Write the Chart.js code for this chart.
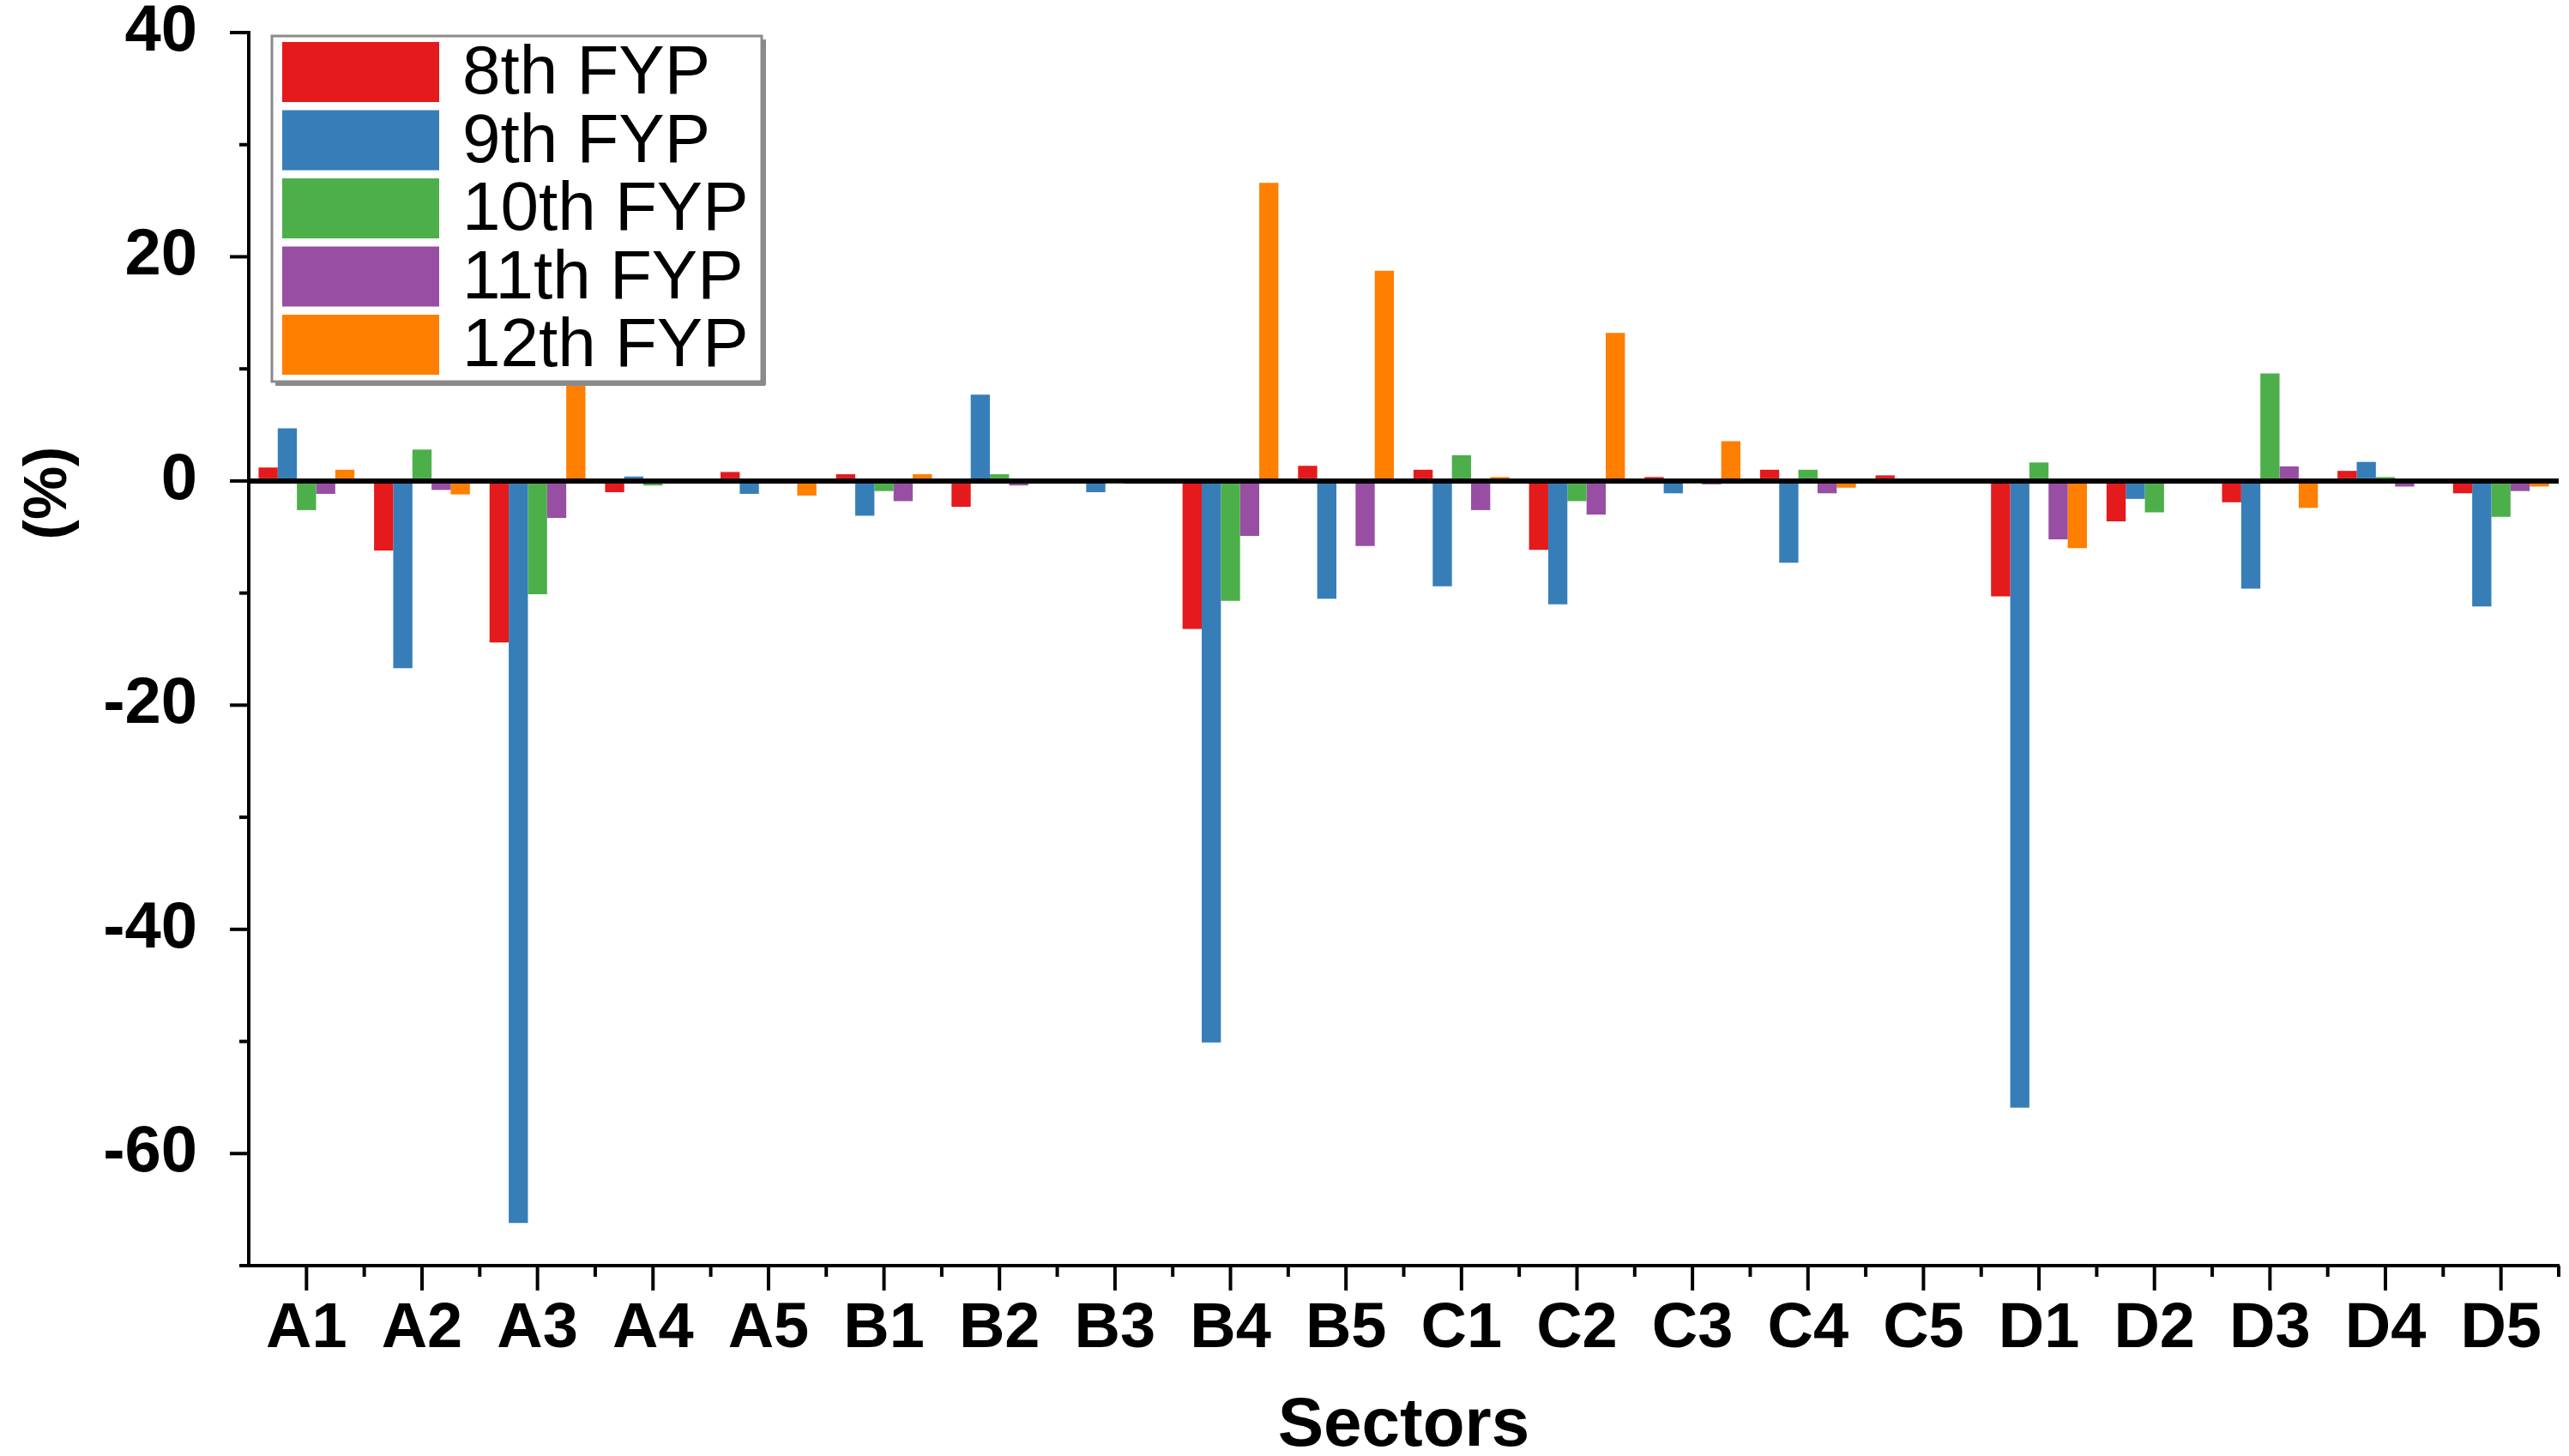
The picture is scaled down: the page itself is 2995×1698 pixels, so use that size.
<!DOCTYPE html>
<html>
<head>
<meta charset="utf-8">
<script src="https://cdn.jsdelivr.net/npm/chart.js@4.4.1/dist/chart.umd.min.js"></script>
<style>
  html, body { margin: 0; padding: 0; background: #fff; }
  #wrap { width: 2995px; height: 1698px; }
</style>
</head>
<body>
<div id="wrap"><canvas id="chart" width="2995" height="1698"></canvas></div>
<script>
// Sector change per Five-Year Plan (%)
const sectors = ['A1', 'A2', 'A3', 'A4', 'A5', 'B1', 'B2', 'B3', 'B4', 'B5',
                 'C1', 'C2', 'C3', 'C4', 'C5', 'D1', 'D2', 'D3', 'D4', 'D5'];
const fyp8  = [1.2, -6.2, -14.4, -1.0, 0.8, 0.6, -2.3, 0, -13.2, 1.35,
               1.0, -6.15, 0.35, 1.0, 0.5, -10.3, -3.6, -1.9, 0.9, -1.1];
const fyp9  = [4.7, -16.7, -66.2, 0.4, -1.15, -3.1, 7.7, -1.0, -50.1, -10.5,
               -9.4, -11.0, -1.1, -7.3, 0, -55.9, -1.6, -9.6, 1.7, -11.2];
const fyp10 = [-2.6, 2.8, -10.1, -0.4, 0, -0.9, 0.6, -0.2, -10.7, 0,
               2.3, -1.8, -0.2, 1.0, 0, 1.65, -2.8, 9.6, 0.35, -3.2];
const fyp11 = [-1.15, -0.8, -3.3, 0, 0, -1.8, -0.4, 0, -4.9, -5.8,
               -2.6, -3.0, -0.3, -1.1, 0, -5.2, 0, 1.3, -0.5, -0.9];
const fyp12 = [1.0, -1.2, 15, 0, -1.3, 0.6, 0, 0, 26.6, 18.75,
               0.35, 13.2, 3.55, -0.6, 0, -6.0, 0, -2.4, 0, -0.5];

const seriesNames = ['8th FYP', '9th FYP', '10th FYP', '11th FYP', '12th FYP'];
const seriesColors = ['#E41A1C', '#377EB8', '#4DAF4A', '#984EA3', '#FF7F00'];
const seriesData = [fyp8, fyp9, fyp10, fyp11, fyp12];

const yMin = -70;
const yMax = 40;

const FONT = "'Liberation Sans', Arial, sans-serif";

// tick marks (major/minor) drawn outward, plus the in-plot legend and y title
const decorations = {
  id: 'decorations',
  afterDraw(chart) {
    const ctx = chart.ctx;
    const area = chart.chartArea;
    const ys = chart.scales.y;
    const xs = chart.scales.x;
    ctx.save();
    ctx.strokeStyle = '#000';
    ctx.lineWidth = 4;

    // y ticks
    ys.ticks.forEach(t => {
      const py = ys.getPixelForValue(t.value);
      const len = t.value % 20 === 0 ? 22 : 11;
      ctx.beginPath();
      ctx.moveTo(area.left, py);
      ctx.lineTo(area.left - len, py);
      ctx.stroke();
    });

    // x ticks: long at categories, short at boundaries
    const step = xs.getPixelForValue(1) - xs.getPixelForValue(0);
    sectors.forEach((s, i) => {
      const px = xs.getPixelForValue(i);
      ctx.beginPath();
      ctx.moveTo(px, area.bottom);
      ctx.lineTo(px, area.bottom + 29);
      ctx.stroke();
      const bx = px + step / 2;
      ctx.beginPath();
      ctx.moveTo(bx, area.bottom);
      ctx.lineTo(bx, area.bottom + 13);
      ctx.stroke();
    });

    // y title
    ctx.fillStyle = '#000';
    ctx.font = 'bold 70px ' + FONT;
    ctx.textAlign = 'center';
    ctx.textBaseline = 'middle';
    ctx.translate(58, 575);
    ctx.rotate(-Math.PI / 2);
    ctx.fillText('(%)', 0, 0);
    ctx.restore();

    // legend box
    ctx.save();
    const lx = 317, ly = 42, lw = 571, lh = 403;
    ctx.fillStyle = '#fff';
    ctx.fillRect(lx, ly, lw, lh);
    ctx.strokeStyle = '#8a8a8a';
    ctx.lineWidth = 3;
    ctx.strokeRect(lx, ly, lw, lh);
    ctx.fillStyle = '#8a8a8a';
    ctx.fillRect(lx + 4, ly + lh, lw, 5);
    ctx.fillRect(lx + lw, ly + 4, 5, lh);
    ctx.font = '80px ' + FONT;
    ctx.textAlign = 'left';
    ctx.textBaseline = 'middle';
    seriesNames.forEach((name, i) => {
      const cy = ly + 42 + i * 79.5;
      ctx.fillStyle = seriesColors[i];
      ctx.fillRect(lx + 12, cy - 35, 183, 70);
      ctx.fillStyle = '#000';
      ctx.fillText(name, lx + 222, cy + 3);
    });
    ctx.restore();
  }
};

new Chart(document.getElementById('chart').getContext('2d'), {
  type: 'bar',
  data: {
    labels: sectors,
    datasets: seriesData.map((d, i) => ({
      label: seriesNames[i],
      data: d,
      backgroundColor: seriesColors[i],
      borderWidth: 0,
      categoryPercentage: 0.83,
      barPercentage: 1.0
    }))
  },
  options: {
    responsive: false,
    devicePixelRatio: 1,
    animation: false,
    layout: { padding: { top: 38, right: 12, left: 0, bottom: 0 } },
    plugins: {
      legend: { display: false },
      tooltip: { enabled: false }
    },
    scales: {
      x: {
        z: 1,
        offset: true,
        grid: { display: false, drawTicks: false },
        border: { color: '#000', width: 4 },
        ticks: {
          color: '#000',
          padding: 30,
          maxRotation: 0,
          autoSkip: false,
          font: { family: FONT, size: 74, weight: 'bold' }
        },
        title: {
          display: true,
          text: 'Sectors',
          color: '#000',
          padding: { top: 0, bottom: 0 },
          font: { family: FONT, size: 80, weight: 'bold', lineHeight: 0.85 }
        },
        afterFit(scale) {
          scale.height = 222;
          scale.paddingLeft = 0;
          scale.paddingRight = 0;
        }
      },
      y: {
        z: 1,
        min: yMin,
        max: yMax,
        grid: {
          drawTicks: false,
          color: c => (c.tick && c.tick.value === 0 ? '#000' : 'rgba(0,0,0,0)'),
          lineWidth: c => (c.tick && c.tick.value === 0 ? 6 : 0)
        },
        border: { color: '#000', width: 4 },
        ticks: {
          stepSize: 10,
          color: '#000',
          padding: 60,
          font: { family: FONT, size: 76, weight: 'bold' },
          callback: v => (v % 20 === 0 ? String(v) : '')
        },
        afterFit(scale) {
          scale.width = 290;
          scale.paddingTop = 0;
          scale.paddingBottom = 0;
        }
      }
    }
  },
  plugins: [decorations]
});
</script>
</body>
</html>
